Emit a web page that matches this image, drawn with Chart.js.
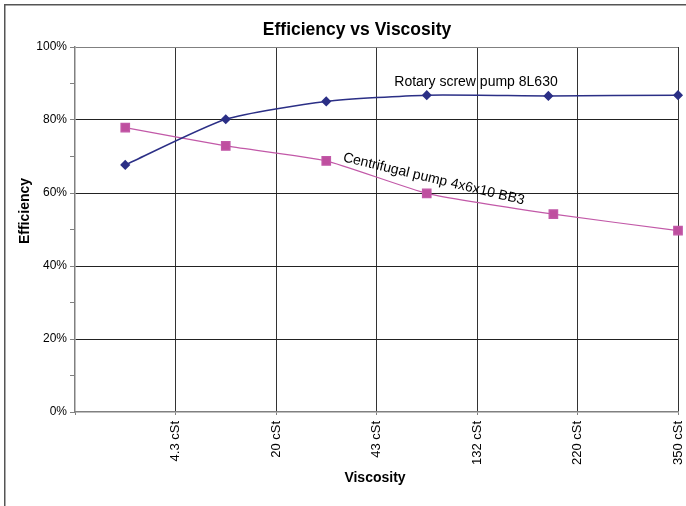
<!DOCTYPE html>
<html>
<head>
<meta charset="utf-8">
<script src="https://cdn.jsdelivr.net/npm/chart.js@4"></script>
<style>
  body { margin: 0; background: #fff; }
  canvas { display: block; }
</style>
</head>
<body>
<canvas id="myChart" width="686" height="506"></canvas>
<script>
// data (x = position between the viscosity gridlines)
var viscLabels = ['', '4.3 cSt', '20 cSt', '43 cSt', '132 cSt', '220 cSt', '350 cSt'];
var screwX = [0.5, 1.5, 2.5, 3.5, 4.71, 6];
var screwY = [67.7, 80.2, 85.1, 86.8, 86.6, 86.8];
var centX = [0.5, 1.5, 2.5, 3.5, 4.76, 6];
var centY = [77.9, 72.9, 68.8, 59.9, 54.2, 49.7];

var font = 'Liberation Sans, Arial, sans-serif';

function toPoints(xs, ys){
    var pts = [];
    for (var i = 0; i < xs.length; i++){
        pts.push({x: xs[i], y: ys[i]});
    }
    return pts;
}

// frame, titles and the two series notes
var extras = {
    id: 'extras',
    beforeDraw: function(chart){
        var c = chart.ctx;
        c.save();
        c.fillStyle = '#fff';
        c.fillRect(0, 0, chart.width, chart.height);
        c.strokeStyle = '#555';
        c.lineWidth = 1.5;
        c.strokeRect(4.75, 4.75, 740, 540);
        c.restore();
    },
    afterDraw: function(chart){
        var c = chart.ctx;
        var xs = chart.scales.x, ys = chart.scales.y;
        c.save();
        c.fillStyle = '#000';
        c.textAlign = 'center';
        c.textBaseline = 'middle';
        c.font = 'bold 17.5px ' + font;
        c.fillText('Efficiency vs Viscosity', 357, 30);
        c.font = 'bold 14px ' + font;
        c.fillText('Viscosity', 375, 478);
        c.save();
        c.translate(25, 211);
        c.rotate(-Math.PI / 2);
        c.fillText('Efficiency', 0, 0);
        c.restore();

        c.font = '14px ' + font;
        c.fillText('Rotary screw pump 8L630', xs.getPixelForValue(3.99), ys.getPixelForValue(90.4));
        c.save();
        c.translate(xs.getPixelForValue(3.57), ys.getPixelForValue(63.8));
        c.rotate(13.5 * Math.PI / 180);
        c.fillText('Centrifugal pump 4x6x10 BB3', 0, 0);
        c.restore();
        c.restore();
    }
};

var ctx = document.getElementById('myChart');
var myChart = new Chart(ctx, {
    type: 'scatter',
    data: {
        datasets: [
            {
                label: 'Rotary screw pump 8L630',
                data: toPoints(screwX, screwY),
                showLine: true,
                tension: 0.2,
                borderColor: '#2B2F86',
                backgroundColor: '#2B2F86',
                borderWidth: 1.5,
                pointStyle: 'rectRot',
                pointRadius: 4,
                pointHoverRadius: 4,
                clip: false
            },
            {
                label: 'Centrifugal pump 4x6x10 BB3',
                data: toPoints(centX, centY),
                showLine: true,
                tension: 0.15,
                borderColor: '#C259A8',
                backgroundColor: '#BF4F9F',
                borderWidth: 1.2,
                pointStyle: 'rect',
                pointRadius: 6,
                pointHoverRadius: 6,
                clip: false
            }
        ]
    },
    options: {
        responsive: false,
        animation: false,
        devicePixelRatio: 1,
        layout: { padding: { left: 5, top: 47, right: 8, bottom: 0 } },
        plugins: {
            legend: { display: false },
            title: { display: false },
            tooltip: { enabled: false }
        },
        scales: {
            x: {
                type: 'linear',
                min: 0,
                max: 6,
                afterFit: function(scale){
                    scale.height = 94;
                    scale.paddingLeft = 0;
                    scale.paddingRight = 0;
                },
                border: { color: '#808080', width: 1.5 },
                grid: {
                    drawTicks: true,
                    tickLength: 3,
                    tickColor: '#808080',
                    lineWidth: 1,
                    color: function(c){ return c.tick.value === 0 ? 'transparent' : '#333'; }
                },
                ticks: {
                    stepSize: 1,
                    autoSkip: false,
                    minRotation: 90,
                    maxRotation: 90,
                    padding: 6,
                    color: '#000',
                    font: { family: font, size: 13 },
                    callback: function(v){ return viscLabels[v]; }
                }
            },
            y: {
                min: 0,
                max: 100,
                afterFit: function(scale){
                    scale.width = 70;
                    scale.paddingTop = 0;
                    scale.paddingBottom = 0;
                },
                border: { color: '#808080', width: 1.5 },
                grid: {
                    tickLength: 5,
                    tickColor: '#808080',
                    color: function(c){
                        var v = c.tick.value;
                        if (v === 100) return '#808080';
                        if (v === 0 || v % 20 !== 0) return 'transparent';
                        return '#222';
                    }
                },
                ticks: {
                    stepSize: 10,
                    autoSkip: false,
                    padding: 3,
                    color: '#000',
                    font: { family: font, size: 12 },
                    callback: function(v){ return v % 20 === 0 ? v + '%' : ''; }
                }
            }
        }
    },
    plugins: [extras]
});
</script>
</body>
</html>
